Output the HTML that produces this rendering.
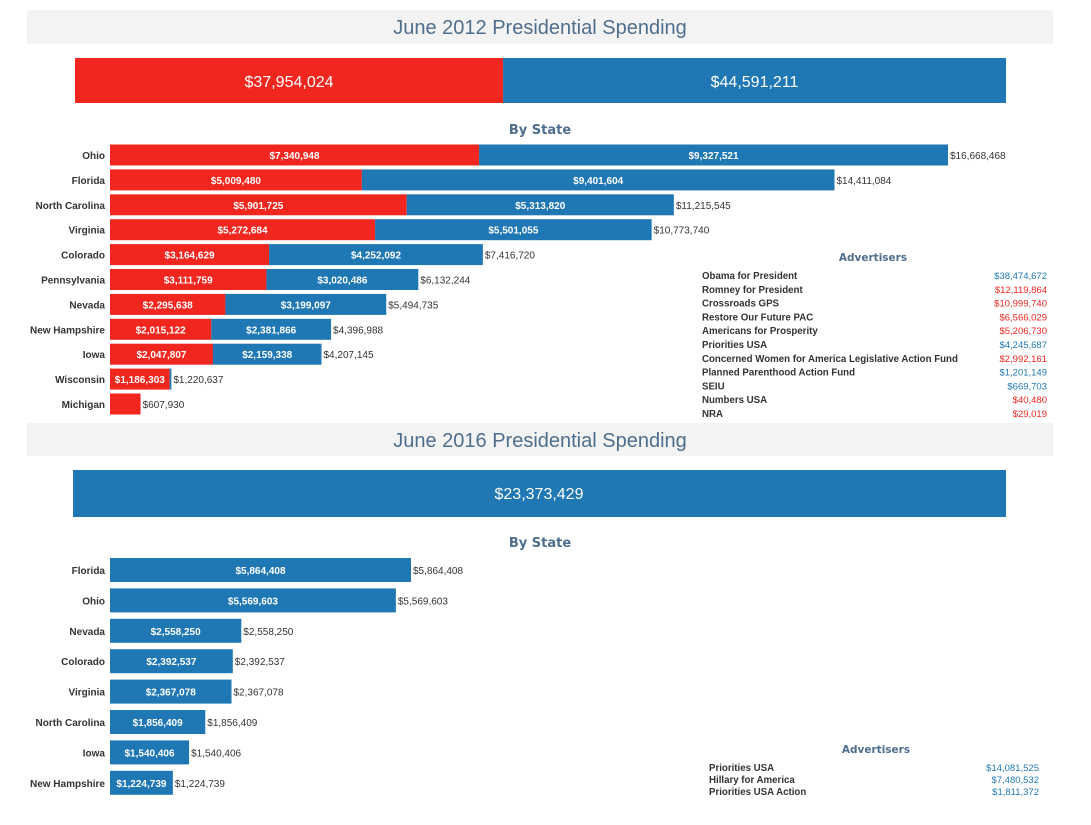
<!DOCTYPE html>
<html><head><meta charset="utf-8">
<style>
html,body{margin:0;padding:0;background:#fff;width:1091px;height:825px;overflow:hidden;font-family:"Liberation Sans",Arial,sans-serif;}
svg{display:block}
</style></head>
<body>
<svg id="chart" width="1091" height="825"></svg>
<script>
const states2012 = ["Ohio","Florida","North Carolina","Virginia","Colorado","Pennsylvania","Nevada","New Hampshire","Iowa","Wisconsin","Michigan"];
const romney2012 = [7340948,5009480,5901725,5272684,3164629,3111759,2295638,2015122,2047807,1186303,607930];
const obama2012 = [9327521,9401604,5313820,5501055,4252092,3020486,3199097,2381866,2159338,34334,0];
const totals2012 = [16668468,14411084,11215545,10773740,7416720,6132244,5494735,4396988,4207145,1220637,607930];
const overallRed2012 = 37954024;
const overallBlue2012 = 44591211;
const advNames2012 = ["Obama for President","Romney for President","Crossroads GPS","Restore Our Future PAC","Americans for Prosperity","Priorities USA","Concerned Women for America Legislative Action Fund","Planned Parenthood Action Fund","SEIU","Numbers USA","NRA"];
const advValues2012 = [38474672,12119864,10999740,6566029,5206730,4245687,2992161,1201149,669703,40480,29019];
const advParty2012 = ["D","R","R","R","R","D","R","D","D","R","R"];

const states2016 = ["Florida","Ohio","Nevada","Colorado","Virginia","North Carolina","Iowa","New Hampshire"];
const blue2016 = [5864408,5569603,2558250,2392537,2367078,1856409,1540406,1224739];
const overallBlue2016 = 23373429;
const advNames2016 = ["Priorities USA","Hillary for America","Priorities USA Action"];
const advValues2016 = [14081525,7480532,1811372];

const RED="#f0261f", BLUE="#1f77b4", TITLE="#4e6e8e";
const svg=document.getElementById('chart');
const NS="http://www.w3.org/2000/svg";
function mk(tag,attrs,parent){const e=document.createElementNS(NS,tag);for(const k in attrs)e.setAttribute(k,attrs[k]);(parent||svg).appendChild(e);return e;}
function txt(s,attrs,parent){const e=mk('text',attrs,parent);e.textContent=s;return e;}
const fmt=v=>'$'+v.toLocaleString('en-US');

let e;
e=mk('rect',{x:27,y:10,width:1026,height:34,fill:'#f3f3f3'});


e=txt('June 2012 Presidential Spending',{x:540,y:34,'text-anchor':'middle','font-size':20,fill:TITLE});



const bigX0=75,bigX1=1006;
const bigScale=(bigX1-bigX0)/(overallRed2012+overallBlue2012);
const redW=overallRed2012*bigScale;
e=mk('rect',{x:bigX0,y:58,width:redW,height:45,fill:RED});


e=mk('rect',{x:bigX0+redW,y:58,width:overallBlue2012*bigScale,height:45,fill:BLUE});


e=txt(fmt(overallRed2012),{x:bigX0+redW/2,y:87,'text-anchor':'middle','font-size':16,fill:'#fff'});


e=txt(fmt(overallBlue2012),{x:bigX0+redW+overallBlue2012*bigScale/2,y:87,'text-anchor':'middle','font-size':16,fill:'#fff'});



e=txt('By State',{x:540,y:134,'text-anchor':'middle','font-size':13,'font-weight':'bold',fill:TITLE,'font-family':'"DejaVu Sans",sans-serif'});



const x0=110, sc12=838/16668468;
const xs12=v=>x0+v*sc12;
const ys12=i=>155+i*24.9;
states2012.forEach((s,i)=>{
  const cy=ys12(i), h=21;
  e=txt(s,{x:105,y:cy+4,'text-anchor':'end','font-size':10,'font-weight':'bold',fill:'#333'});
  
  
  const rw=xs12(romney2012[i])-x0;
  e=mk('rect',{x:x0,y:cy-h/2,width:rw,height:h,fill:RED});
  
  
  if(obama2012[i]>0){
    e=mk('rect',{x:x0+rw,y:cy-h/2,width:obama2012[i]*sc12,height:h,fill:BLUE});
    
    
  }
  if(rw>50){
    e=txt(fmt(romney2012[i]),{x:x0+rw/2,y:cy+4,'text-anchor':'middle','font-size':10,'font-weight':'bold',fill:'#fff'});
    
    
  }
  if(obama2012[i]*sc12>50){
    e=txt(fmt(obama2012[i]),{x:x0+rw+obama2012[i]*sc12/2,y:cy+4,'text-anchor':'middle','font-size':10,'font-weight':'bold',fill:'#fff'});
    
    
  }
  e=txt(fmt(totals2012[i]),{x:xs12(totals2012[i])+2,y:cy+4,'font-size':10,fill:'#333'});
  
  
});

e=txt('Advertisers',{x:873,y:261,'text-anchor':'middle','font-size':10.5,'font-weight':'bold',fill:TITLE,'font-family':'"DejaVu Sans",sans-serif'});


advNames2012.forEach((n,i)=>{
  const y=279+i*13.8;
  e=txt(n,{x:702,y:y,'font-size':9.7,'font-weight':'bold',fill:'#333'});
  
  
  e=txt(fmt(advValues2012[i]),{x:1047,y:y,'text-anchor':'end','font-size':9.5,fill:advParty2012[i]==='D'?BLUE:RED});
  
  
});

e=mk('rect',{x:27,y:423,width:1026,height:33,fill:'#f3f3f3'});


e=txt('June 2016 Presidential Spending',{x:540,y:447,'text-anchor':'middle','font-size':20,fill:TITLE});


e=mk('rect',{x:73,y:470,width:933,height:47,fill:BLUE});


e=txt(fmt(overallBlue2016),{x:539,y:499,'text-anchor':'middle','font-size':16,fill:'#fff'});


e=txt('By State',{x:540,y:547,'text-anchor':'middle','font-size':13,'font-weight':'bold',fill:TITLE,'font-family':'"DejaVu Sans",sans-serif'});



const sc16=301/5864408;
const xs16=v=>x0+v*sc16;
const ys16=i=>570+i*30.4;
states2016.forEach((s,i)=>{
  const cy=ys16(i), h=24, w=xs16(blue2016[i])-x0;
  e=txt(s,{x:105,y:cy+4,'text-anchor':'end','font-size':10,'font-weight':'bold',fill:'#333'});
  
  
  e=mk('rect',{x:x0,y:cy-h/2,width:w,height:h,fill:BLUE});
  
  
  e=txt(fmt(blue2016[i]),{x:x0+w/2,y:cy+4,'text-anchor':'middle','font-size':10,'font-weight':'bold',fill:'#fff'});
  
  
  e=txt(fmt(blue2016[i]),{x:x0+w+2,y:cy+4,'font-size':10,fill:'#333'});
  
  
});

e=txt('Advertisers',{x:876,y:753,'text-anchor':'middle','font-size':10.5,'font-weight':'bold',fill:TITLE,'font-family':'"DejaVu Sans",sans-serif'});


advNames2016.forEach((n,i)=>{
  const y=771+i*12;
  e=txt(n,{x:709,y:y,'font-size':9.7,'font-weight':'bold',fill:'#333'});
  
  
  e=txt(fmt(advValues2016[i]),{x:1039,y:y,'text-anchor':'end','font-size':9.5,fill:BLUE});
  
  
});
</script>
</body></html>
